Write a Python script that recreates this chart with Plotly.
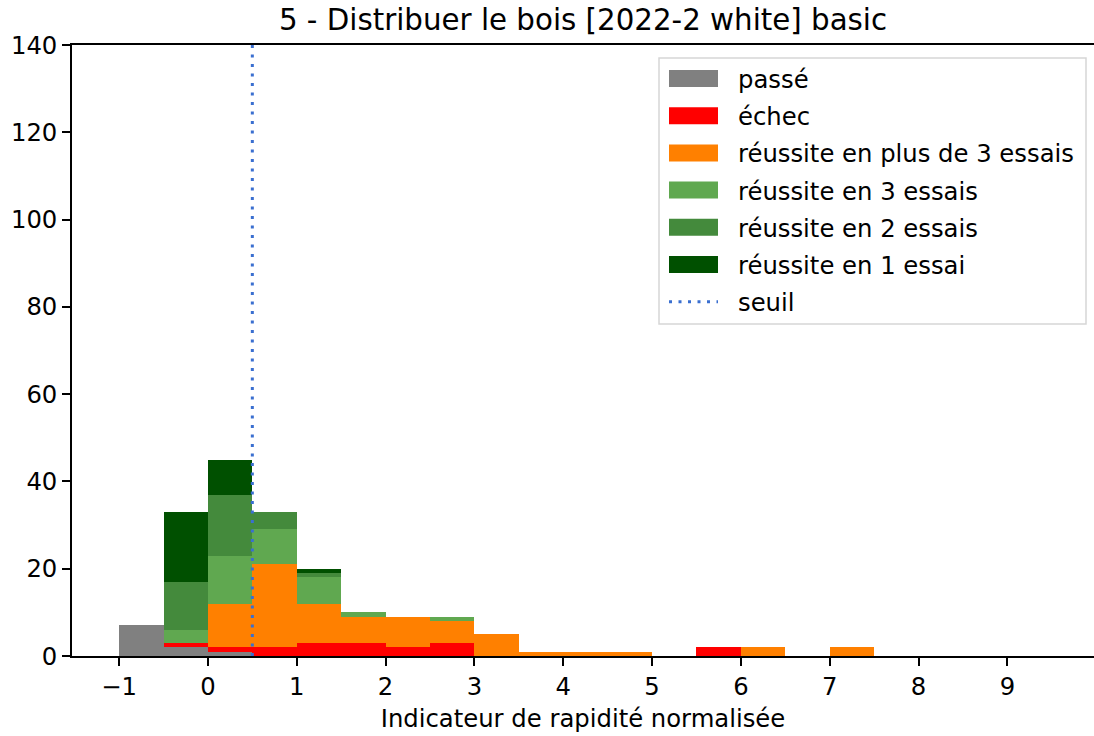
import plotly.graph_objects as go

# ---- data (bin left edges, width 0.5) ----
bin_left = [-1.0, -0.5, 0.0, 0.5, 1.0, 1.5, 2.0, 2.5, 3.0, 3.5, 4.0,
            4.5, 5.0, 5.5, 6.0, 6.5, 7.0, 7.5, 8.0, 8.5, 9.0]
bin_width = 0.5
passe   = [7, 2, 1, 0, 0, 0, 0, 0, 0, 0, 0, 0, 0, 0, 0, 0, 0, 0, 0, 0, 0]
echec   = [0, 1, 1, 2, 3, 3, 2, 3, 0, 0, 0, 0, 0, 2, 0, 0, 0, 0, 0, 0, 0]
plus3   = [0, 0, 10, 19, 9, 6, 7, 5, 5, 1, 1, 1, 0, 0, 2, 0, 2, 0, 0, 0, 0]
essai3  = [0, 3, 11, 8, 6, 1, 0, 1, 0, 0, 0, 0, 0, 0, 0, 0, 0, 0, 0, 0, 0]
essai2  = [0, 11, 14, 4, 1, 0, 0, 0, 0, 0, 0, 0, 0, 0, 0, 0, 0, 0, 0, 0, 0]
essai1  = [0, 16, 8, 0, 1, 0, 0, 0, 0, 0, 0, 0, 0, 0, 0, 0, 0, 0, 0, 0, 0]
seuil = 0.5

series_names = ["passé", "échec", "réussite en plus de 3 essais",
                "réussite en 3 essais", "réussite en 2 essais", "réussite en 1 essai"]
series_values = [passe, echec, plus3, essai3, essai2, essai1]
series_colors = ["#808080", "#ff0000", "#ff8000", "#60a850", "#448a3c", "#005000"]

x_ticks = [-1, 0, 1, 2, 3, 4, 5, 6, 7, 8, 9]
y_ticks = [0, 20, 40, 60, 80, 100, 120, 140]

title = "5 - Distribuer le bois [2022-2 white] basic"
x_title = "Indicateur de rapidité normalisée"

FONT = "DejaVu Sans"
FS = 24.3
W, H = 1094, 736
ML, MR, MT, MB = 72, 0, 45, 80

centers = [b + bin_width / 2 for b in bin_left]

fig = go.Figure()
for name, vals, col in zip(series_names, series_values, series_colors):
    fig.add_trace(go.Bar(x=centers, y=vals, width=bin_width, name=name,
                         marker=dict(color=col, line=dict(width=0)),
                         showlegend=False))

fig.add_trace(go.Scatter(x=[seuil, seuil], y=[0, 140], mode="lines",
                         line=dict(color="#3a6fd0", width=3, dash="3px,6.5px"),
                         showlegend=False, name="seuil"))

# ---- custom legend (matplotlib-like) ----
pw = W - ML - MR
ph = H - MT - MB


def px2x(px):
    return (px - ML) / pw


def px2y(py):
    return (H - MB - py) / ph


shapes = []
annotations = []
shapes.append(dict(type="rect", xref="paper", yref="paper",
                   x0=px2x(659), x1=px2x(1086), y0=px2y(324), y1=px2y(58),
                   line=dict(color="#d6d6d6", width=1.5),
                   fillcolor="rgba(255,255,255,0.8)", layer="above"))
legend_labels = series_names + ["seuil"]
row0, dy = 78.5, 37.2
for i, lab in enumerate(legend_labels):
    yc = row0 + dy * i
    if i < len(series_colors):
        shapes.append(dict(type="rect", xref="paper", yref="paper",
                           x0=px2x(669), x1=px2x(718),
                           y0=px2y(yc + 8.5), y1=px2y(yc - 8.5),
                           line=dict(width=0), fillcolor=series_colors[i],
                           layer="above"))
    else:
        shapes.append(dict(type="line", xref="paper", yref="paper",
                           x0=px2x(669), x1=px2x(718),
                           y0=px2y(yc), y1=px2y(yc),
                           line=dict(color="#3a6fd0", width=3, dash="3px,6.5px"),
                           layer="above"))
    annotations.append(dict(xref="paper", yref="paper", x=px2x(736), y=px2y(yc + 1),
                            text=lab, showarrow=False, xanchor="left", yanchor="middle",
                            font=dict(family=FONT, size=FS, color="#000")))

fig.update_layout(
    width=W, height=H,
    margin=dict(l=ML, r=MR, t=MT, b=MB, autoexpand=False),
    barmode="stack", bargap=0,
    plot_bgcolor="white", paper_bgcolor="white",
    font=dict(family=FONT, size=FS, color="#000"),
    title=dict(text=title, x=0.5, xref="paper", xanchor="center",
               y=1 - 20 / H, yanchor="middle",
               font=dict(family=FONT, size=29.3, color="#000")),
    shapes=shapes, annotations=annotations,
    showlegend=False,
)
fig.update_xaxes(range=[-1.53, 9.975], tickvals=x_ticks, ticks="outside",
                 ticklen=8, tickwidth=1.6, tickcolor="#000",
                 showline=True, linecolor="#000", linewidth=1.6, mirror=True,
                 showgrid=False, zeroline=False, automargin=False,
                 title=dict(text=x_title, standoff=10,
                            font=dict(family=FONT, size=FS, color="#000")))
fig.update_yaxes(range=[0, 140], tickvals=y_ticks, ticks="outside",
                 ticklen=8, tickwidth=1.6, tickcolor="#000",
                 showline=True, linecolor="#000", linewidth=1.6, mirror=False,
                 showgrid=False, zeroline=False, automargin=False)

fig.write_html("out.html", config={"displayModeBar": False},
               post_script="document.body.style.margin='0';document.body.style.overflow='hidden';")
